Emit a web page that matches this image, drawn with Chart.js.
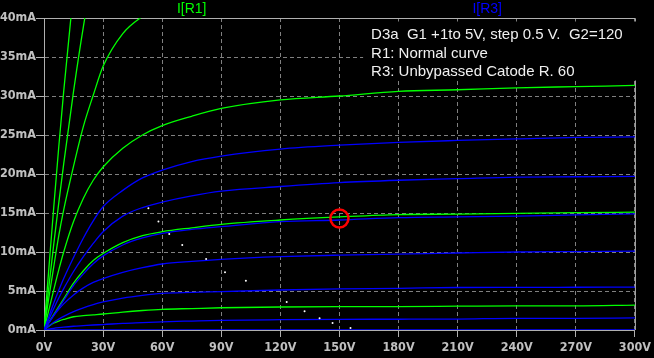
<!DOCTYPE html>
<html>
<head>
<meta charset="utf-8">
<script src="https://cdn.jsdelivr.net/npm/chart.js@4"></script>
<style>
  html, body { margin: 0; padding: 0; background: #000; }
  canvas { display: block; background: #000; }
</style>
</head>
<body>
<canvas id="plateChart" width="654" height="358"></canvas>
<script>
// Plate voltage sample points (V)
const plateVolts = [0, 2.5, 5, 7.5, 10, 15, 20, 25, 30, 40, 50, 60, 75, 90, 120, 150, 180, 210, 240, 270, 300];

// I(R1) - normal curve (mA)
const r1Curve1 = [0, 0.5, 0.9, 1.15, 1.35, 1.7, 1.85, 1.95, 2.05, 2.3, 2.5, 2.65, 2.75, 2.85, 2.95, 3.0, 3.0, 3.05, 3.1, 3.1, 3.2];
const r1Curve2 = [0, 1.0, 2.0, 3.0, 4.0, 6.0, 7.6, 8.9, 9.8, 11.2, 12.1, 12.6, 13.1, 13.55, 14.1, 14.5, 14.8, 14.85, 14.95, 15.05, 15.1];
const r1Curve3 = [0, 2.6, 5.2, 7.7, 10.0, 13.9, 16.9, 19.2, 20.9, 23.3, 25.0, 26.2, 27.4, 28.4, 29.5, 30.0, 30.6, 30.8, 31.05, 31.2, 31.35];
const r1Curve4 = [0, 4.2, 8.2, 12.1, 15.4, 21.0, 26.1, 30.1, 33.8, 38.0, 40.2, 41.5, 42.5, 43.2, 44.0, 44.8, 45.5, 46.0, 46.4, 46.8, 47.0];
const r1Curve5 = [0, 5.6, 11.1, 16.3, 21.3, 30.6, 38.9, 46.0, 52.0, 60.0, 64.0, 66.0, 68, 69, 70, 71, 72, 73, 74, 75, 76];
const r1Curve6 = [0, 8.0, 15.9, 23.5, 30.6, 43.5, 55, 64, 72, 84, 92, 96, 99, 101, 103, 105, 106, 107, 108, 109, 110];

// I(R3) - unbypassed cathode resistor (mA)
const r3Curve0 = [0, 0, 0, 0, 0, 0, 0, 0, 0, 0, 0, 0, 0, 0, 0, 0, 0, 0, 0, 0, 0];
const r3Curve1 = [0, 0.12, 0.22, 0.3, 0.37, 0.48, 0.56, 0.64, 0.7, 0.85, 0.95, 1.05, 1.15, 1.24, 1.32, 1.37, 1.38, 1.4, 1.5, 1.5, 1.55];
const r3Curve2 = [0, 0.5, 1.0, 1.4, 1.75, 2.35, 2.85, 3.25, 3.6, 4.1, 4.45, 4.7, 4.82, 4.92, 5.13, 5.26, 5.34, 5.45, 5.47, 5.48, 5.5];
const r3Curve3 = [0, 0.95, 1.85, 2.65, 3.35, 4.5, 5.4, 6.1, 6.6, 7.4, 8.0, 8.46, 8.8, 9.06, 9.4, 9.6, 9.74, 9.87, 10.0, 10.05, 10.1];
const r3Curve4 = [0, 0.95, 1.9, 2.85, 3.8, 5.7, 7.2, 8.5, 9.5, 10.9, 11.8, 12.4, 12.9, 13.25, 13.9, 14.1, 14.4, 14.5, 14.6, 14.75, 14.9];
const r3Curve5 = [0, 1.4, 2.8, 4.1, 5.3, 7.5, 9.4, 11.1, 12.6, 14.6, 15.7, 16.4, 17.2, 17.8, 18.4, 18.9, 19.2, 19.4, 19.6, 19.65, 19.7];
const r3Curve6 = [0, 1.75, 3.5, 5.1, 6.6, 9.3, 11.8, 14.0, 15.8, 17.9, 19.5, 20.5, 21.6, 22.3, 23.2, 23.7, 24.06, 24.3, 24.5, 24.7, 24.75];

// Marked operating point
const opPointV = [150];
const opPointI = [14.3];

// Stray cursor dots
const dotV = [53.0, 58.1, 63.6, 70.2, 82.3, 91.9, 102.5, 123.2, 132.3, 139.9, 146.5, 155.6, 180.8, 196.5, 214.1];
const dotI = [15.6, 13.9, 12.3, 10.9, 9.1, 7.4, 6.3, 3.6, 2.4, 1.5, 0.9, 0.26, -0.77, -1.67, -2.95];

// Axis ticks
const voltTicks = [0, 30, 60, 90, 120, 150, 180, 210, 240, 270, 300];
const currentTicks = [0, 5, 10, 15, 20, 25, 30, 35, 40];

const noteLines = [
  "D3a  G1 +1to 5V, step 0.5 V.  G2=120",
  "R1: Normal curve",
  "R3: Unbypassed Catode R. 60"
];

const GREEN = "#00ff00";
const BLUE = "#0000ff";

const toPoints = (xs, ys) => xs.map((x, i) => ({ x: x, y: ys[i] }));

const curve = (ys, color, order) => ({
  data: toPoints(plateVolts, ys),
  borderColor: color,
  borderWidth: 1.3,
  pointRadius: 0,
  cubicInterpolationMode: "monotone",
  order: order
});

const greenSets = [r1Curve1, r1Curve2, r1Curve3, r1Curve4, r1Curve5, r1Curve6].map(c => curve(c, GREEN, 3));
const blueSets = [r3Curve0, r3Curve1, r3Curve2, r3Curve3, r3Curve4, r3Curve5, r3Curve6].map(c => curve(c, BLUE, 2));

const tickFont = { family: "'DejaVu Sans Condensed', 'Liberation Sans', sans-serif", size: 12.5, weight: "bold" };

// Frame lines, trace names and the note box
const overlay = {
  id: "overlay",
  beforeDatasetsDraw(chart) {
    const { ctx, chartArea: a } = chart;
    ctx.save();
    ctx.strokeStyle = "#b0b0b0";
    ctx.lineWidth = 1;
    ctx.beginPath();
    ctx.moveTo(a.left, a.top + 0.5);
    ctx.lineTo(a.right + 0.5, a.top + 0.5);
    ctx.lineTo(a.right + 0.5, a.bottom);
    ctx.stroke();
    ctx.restore();
  },
  afterDraw(chart) {
    const { ctx, chartArea: a, scales } = chart;
    ctx.save();
    // trace names
    ctx.font = "14px 'Liberation Sans', Arial, sans-serif";
    ctx.textAlign = "center";
    ctx.textBaseline = "middle";
    ctx.fillStyle = GREEN;
    ctx.fillText("I[R1]", a.left + a.width * 0.25, 9);
    ctx.fillStyle = BLUE;
    ctx.fillText("I[R3]", a.left + a.width * 0.75, 9);
    // note box
    const x0 = scales.x.getPixelForValue(162);
    ctx.fillStyle = "#000";
    ctx.fillRect(x0, a.top + 3.5, 654 - x0 - 8, 59);
    ctx.font = "15px 'Liberation Sans', Arial, sans-serif";
    ctx.textAlign = "left";
    ctx.fillStyle = "#f0f0f0";
    noteLines.forEach((t, i) => ctx.fillText(t, x0 + 8, 35 + i * 18.5));
    ctx.restore();
  }
};

new Chart(document.getElementById("plateChart"), {
  type: "line",
  data: {
    datasets: [
      {
        data: toPoints(opPointV, opPointI),
        showLine: false,
        pointRadius: 9,
        pointBorderWidth: 2.5,
        pointBorderColor: "#ff0000",
        pointBackgroundColor: "rgba(0,0,0,0)",
        order: 0
      },
      {
        data: toPoints(dotV, dotI),
        showLine: false,
        pointRadius: 1,
        pointBorderWidth: 0,
        pointBackgroundColor: "#ffffff",
        clip: false,
        order: 1
      },
      ...blueSets,
      ...greenSets
    ]
  },
  options: {
    responsive: false,
    animation: false,
    layout: { padding: { top: 18, right: 16, left: 0, bottom: 0 } },
    plugins: { legend: { display: false }, tooltip: { enabled: false } },
    scales: {
      x: {
        type: "linear",
        min: 0,
        max: 300,
        afterBuildTicks: s => { s.ticks = voltTicks.map(v => ({ value: v })); },
        afterFit: s => { s.height = 28; },
        ticks: {
          color: "#c0c0c0",
          font: tickFont,
          padding: 3,
          maxRotation: 0,
          autoSkip: false,
          callback: v => v + "V"
        },
        grid: { color: "#808080", tickColor: "#b0b0b0", tickLength: 7 },
        border: { color: "#b0b0b0", dash: [4, 3] }
      },
      y: {
        min: 0,
        max: 40,
        afterBuildTicks: s => { s.ticks = currentTicks.map(v => ({ value: v })); },
        afterFit: s => { s.width = 44; },
        ticks: {
          color: "#c0c0c0",
          font: tickFont,
          padding: 0,
          callback: v => v + "mA"
        },
        grid: { color: "#808080", tickColor: "#b0b0b0", tickLength: 8 },
        border: { color: "#b0b0b0", dash: [4, 3] }
      }
    }
  },
  plugins: [overlay]
});
</script>
</body>
</html>
